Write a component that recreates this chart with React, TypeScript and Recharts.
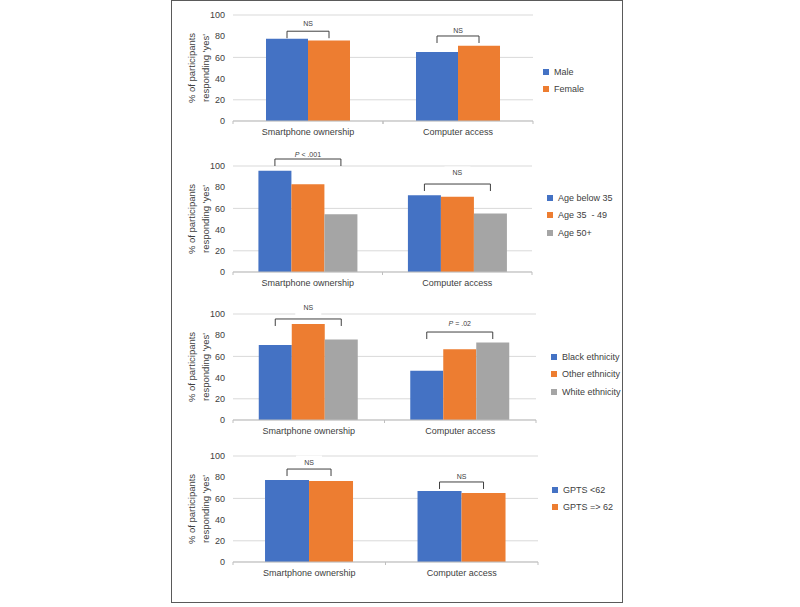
import React from 'react';
import { BarChart, Bar, XAxis, YAxis, CartesianGrid, Legend, LabelList } from 'recharts';

const categories = ['Smartphone ownership', 'Computer access'];
const yTicks = [0, 20, 40, 60, 80, 100];
const barColors = ['#4472C4', '#ED7D31', '#A5A5A5'];

// panel 1: sex
const sexNames = ['Male', 'Female'];
const male = [77.5, 65];
const female = [76, 71];
const sexLevels = [84.7, 80.2];
const sexLabelAt = [91.9, 85.6];
const sexTests = ['NS', 'NS'];

// panel 2: age
const ageNames = ['Age below 35', 'Age 35  - 49', 'Age 50+'];
const ageBelow35 = [95.5, 72.3];
const age35to49 = [82.7, 71];
const age50plus = [54.4, 55.3];
const ageLevels = [106.6, 83];
const ageLabelAt = [111.3, 93.4];
const ageTests = ['P < .001', 'NS'];

// panel 3: ethnicity
const ethnicityNames = ['Black ethnicity', 'Other ethnicity', 'White ethnicity'];
const blackEthnicity = [70.8, 46.5];
const otherEthnicity = [90.6, 66.7];
const whiteEthnicity = [76, 73];
const ethnicityLevels = [95.3, 83];
const ethnicityLabelAt = [106.6, 91.5];
const ethnicityTests = ['NS', 'P = .02'];

// panel 4: GPTS score
const gptsNames = ['GPTS <62', 'GPTS => 62'];
const gptsBelow = [77.4, 67];
const gptsAbove = [76.4, 65];
const gptsLevels = [87.7, 75.5];
const gptsLabelAt = [94.3, 81.1];
const gptsTests = ['NS', 'NS'];

const FONT = '"Liberation Sans", Arial, sans-serif';
const TEXT = '#404040';

const buildRows = (series: number[][]) =>
  categories.map((category, i) => {
    const row: Record<string, string | number> = { category };
    series.forEach((s, k) => (row['s' + k] = s[i]));
    return row;
  });

const testLabel = (t: string) =>
  t.startsWith('P ') ? (
    <>
      <tspan fontStyle="italic">P</tspan>
      {t.slice(1)}
    </>
  ) : (
    t
  );

// bracket drawn from the last bar of each group, using that bar's geometry as scale
const makeBracket = (n: number, levels: number[], labelAt: number[], tests: string[]) => (props: any) => {
  const vb = props.viewBox ?? props;
  const { x, y, width, height } = vb;
  const i = props.index;
  const value = Number(props.value);
  if (!height || !value || i == null) return null;
  const base = y + height;
  const unit = height / value;
  const top = base - levels[i] * unit;
  const ty = base - labelAt[i] * unit;
  const x2 = x + width / 2;
  const x1 = x2 - (n - 1) * width;
  const cx = (x1 + x2) / 2;
  const label = tests[i];
  const w = label.length * 4 + 18;
  return (
    <g key={'br' + i}>
      <rect x={cx - w / 2} y={ty - 6.5} width={w} height={14.5} fill="#fff" />
      <path d={`M${x1},${top + 7}V${top}H${x2}V${top + 7}`} fill="none" stroke="#404040" strokeWidth={1} />
      <text x={cx} y={ty} textAnchor="middle" dominantBaseline="central" fontSize={7} fill={TEXT} fontFamily={FONT}>
        {testLabel(label)}
      </text>
    </g>
  );
};

// category label plus small tick marks on the category boundaries
const CategoryTick = (props: any) => {
  const { x, y, payload } = props;
  const half = payload.offset ?? 0;
  return (
    <g>
      <line x1={x - half} x2={x - half} y1={y - 8} y2={y - 5} stroke="#bfbfbf" />
      <line x1={x + half} x2={x + half} y1={y - 8} y2={y - 5} stroke="#bfbfbf" />
      <text x={x} y={y} dy="0.71em" textAnchor="middle" fontSize={9} fill={TEXT} fontFamily={FONT}>
        {payload.value}
      </text>
    </g>
  );
};

const yLabel = (props: any) => {
  const vb = props.viewBox;
  const cy = vb.y + vb.height / 2;
  const lines = ['% of participants', "responding 'yes'"];
  return (
    <g>
      {lines.map((l, k) => (
        <text
          key={l}
          x={18 + k * 14}
          y={cy}
          transform={`rotate(-90, ${18 + k * 14}, ${cy})`}
          textAnchor="middle"
          dominantBaseline="central"
          fontSize={9.5}
          fill={TEXT}
          fontFamily={FONT}
        >
          {l}
        </text>
      ))}
    </g>
  );
};

interface PanelProps {
  top: number;
  marginTop: number;
  plotRight: number;
  names: string[];
  series: number[][];
  levels: number[];
  labelAt: number[];
  tests: string[];
  gap: string;
  legendTop: number;
  legendLeft: number;
}

const Panel: React.FC<PanelProps> = ({ top, marginTop, plotRight, names, series, levels, labelAt, tests, gap, legendTop, legendLeft }) => {
  const data = buildRows(series);
  const n = series.length;
  return (
    <div style={{ position: 'absolute', left: 173, top }}>
      <BarChart
        width={450}
        height={marginTop + 106 + 30}
        data={data}
        margin={{ top: marginTop, right: 450 - plotRight, bottom: 0, left: 0 }}
        barCategoryGap={gap}
        barGap={0}
      >
        <CartesianGrid vertical={false} stroke="#d9d9d9" />
        <XAxis dataKey="category" height={30} tickLine={false} axisLine={{ stroke: '#bfbfbf' }} tick={<CategoryTick />} />
        <YAxis
          width={60}
          domain={[0, 100]}
          ticks={yTicks}
          axisLine={false}
          tickLine={false}
          tick={{ fontSize: 9, fill: TEXT, fontFamily: FONT }}
          label={{ content: yLabel }}
        />
        <Legend
          layout="vertical"
          align="center"
          verticalAlign="middle"
          wrapperStyle={{ left: legendLeft, top: legendTop, width: 90 }}
          content={() => (
            <div style={{ fontFamily: FONT, fontSize: 9, color: TEXT }}>
              {names.map((nm, k) => (
                <div key={nm} style={{ display: 'flex', alignItems: 'center', height: 17.5 }}>
                  <span style={{ width: 6, height: 6, background: barColors[k], marginRight: 5, display: 'inline-block' }} />
                  <span style={{ whiteSpace: 'pre' }}>{nm}</span>
                </div>
              ))}
            </div>
          )}
        />
        {series.map((_, k) => (
          <Bar key={k} dataKey={'s' + k} name={names[k]} fill={barColors[k]} isAnimationActive={false}>
            {k === n - 1 && <LabelList dataKey={'s' + k} content={makeBracket(n, levels, labelAt, tests)} />}
          </Bar>
        ))}
      </BarChart>
    </div>
  );
};

export default function App() {
  return (
    <div style={{ position: 'absolute', left: 0, top: 0, width: 800, height: 607, background: '#fff' }}>
      <div
        style={{
          position: 'absolute',
          left: 171,
          top: 0,
          width: 450,
          height: 601,
          border: '1.5px solid #5a5a5a',
        }}
      />
      <Panel top={-1} marginTop={16} plotRight={360} names={sexNames} series={[male, female]} levels={sexLevels} labelAt={sexLabelAt} tests={sexTests} gap="22%" legendTop={64} legendLeft={370} />
      <Panel top={150} marginTop={16} plotRight={359} names={ageNames} series={[ageBelow35, age35to49, age50plus]} levels={ageLevels} labelAt={ageLabelAt} tests={ageTests} gap="17%" legendTop={39} legendLeft={374} />
      <Panel top={298} marginTop={16} plotRight={363} names={ethnicityNames} series={[blackEthnicity, otherEthnicity, whiteEthnicity]} levels={ethnicityLevels} labelAt={ethnicityLabelAt} tests={ethnicityTests} gap="17%" legendTop={50} legendLeft={378} />
      <Panel top={440} marginTop={16} plotRight={365} names={gptsNames} series={[gptsBelow, gptsAbove]} levels={gptsLevels} labelAt={gptsLabelAt} tests={gptsTests} gap="21%" legendTop={41} legendLeft={379} />
    </div>
  );
}
